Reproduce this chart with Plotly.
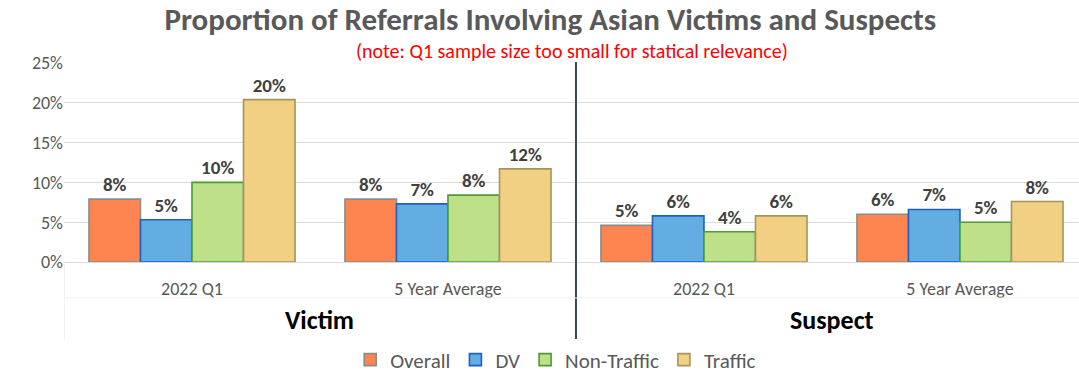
import plotly.graph_objects as go

# Category structure: outer group (role) and inner period
groups = ["Victim", "Victim", "Suspect", "Suspect"]
periods = ["2022 Q1", "5 Year Average", "2022 Q1", "5 Year Average"]
categories = [f"{g} | {p}" for g, p in zip(groups, periods)]

series_names = ["Overall", "DV", "Non-Traffic", "Traffic"]
overall = [0.079, 0.079, 0.046, 0.060]
dv = [0.053, 0.073, 0.058, 0.066]
non_traffic = [0.100, 0.084, 0.038, 0.050]
traffic = [0.204, 0.117, 0.058, 0.076]

fill_colors = ["#FF8550", "#62AEE3", "#BEE08B", "#F2D083"]
line_colors = ["#8C8C8C", "#1F5FBF", "#4E9A33", "#A8945A"]

FONT = "Carlito, Lato, 'Open Sans', sans-serif"

fig = go.Figure()
for name, vals, fc, lc in zip(series_names, [overall, dv, non_traffic, traffic],
                              fill_colors, line_colors):
    fig.add_trace(go.Bar(
        name=name, x=categories, y=vals,
        marker=dict(color=fc, line=dict(color=lc, width=1.6)),
        texttemplate="%{y:.0%}", textposition="outside",
        textfont=dict(family=FONT, size=19, color="#404040", weight="bold"),
        cliponaxis=False,
    ))

# Outer group labels centred under each pair of periods
for i in range(0, len(groups), 2):
    fig.add_annotation(
        x=i + 0.5, xref="x", y=-0.29, yref="paper", yanchor="middle",
        text=f"<b>{groups[i]}</b>", showarrow=False,
        font=dict(family=FONT, size=26, color="#000000"),
    )

# Dark divider between Victim and Suspect, and faint table lines below the axis
fig.add_shape(type="line", xref="x", yref="paper", x0=1.5, x1=1.5, y0=1.005, y1=-0.392,
              line=dict(color="#3A4652", width=2))
fig.add_shape(type="line", xref="x", yref="paper", x0=-0.5, x1=-0.5, y0=0, y1=-0.392,
              line=dict(color="#E3E3E3", width=1))
fig.add_shape(type="line", xref="x", yref="paper", x0=-0.5, x1=3.5, y0=-0.181, y1=-0.181,
              line=dict(color="#F0F0F0", width=1))

fig.update_layout(
    width=1079, height=373,
    margin=dict(l=64, r=0, t=63, b=111, autoexpand=False),
    paper_bgcolor="white", plot_bgcolor="white",
    barmode="group", bargap=0.195, bargroupgap=0,
    font=dict(family=FONT, color="#595959"),
    title=dict(
        text="<b>Proportion of Referrals Involving Asian Victims and Suspects</b>",
        x=0.51, xanchor="center", y=0.95, yanchor="middle",
        font=dict(family=FONT, size=31, color="#595959"),
    ),
    showlegend=True,
    legend=dict(orientation="h", xref="container", yref="container",
                x=0.515, xanchor="center", y=0.035, yanchor="middle",
                font=dict(family=FONT, size=21, color="#595959"),
                itemwidth=30, traceorder="normal"),
)
fig.add_annotation(
    text="(note: Q1 sample size too small for statical relevance)",
    xref="paper", yref="paper", x=0.5, y=1.058, yanchor="middle", showarrow=False,
    font=dict(family=FONT, size=20, color="#FF0000"),
)

fig.update_yaxes(range=[0, 0.25], dtick=0.05, tickformat=".0%",
                 showgrid=True, gridcolor="#D9D9D9", gridwidth=1,
                 zeroline=False, showline=False,
                 tickfont=dict(family=FONT, size=18, color="#595959"))
fig.update_xaxes(range=[-0.5, 3.465], tickmode="array", tickvals=categories, ticktext=periods,
                 showline=True, linecolor="#D9D9D9", linewidth=1,
                 ticks="", ticklabelstandoff=10,
                 tickfont=dict(family=FONT, size=18, color="#595959"))

fig.write_html("out.html")
